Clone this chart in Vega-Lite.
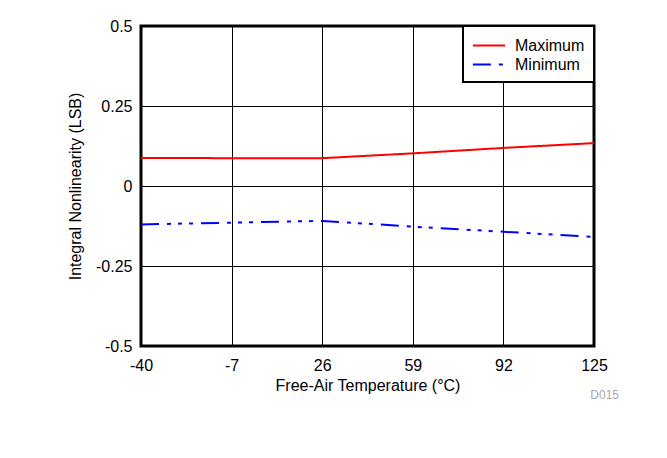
{
  "$schema": "https://vega.github.io/schema/vega-lite/v6.json",
  "width": 453,
  "height": 320,
  "autosize": {"type": "none"},
  "padding": {"left": 141, "top": 26, "right": 73, "bottom": 112},
  "background": "white",
  "title": {
    "text": "D015",
    "orient": "bottom",
    "anchor": "end",
    "frame": "group",
    "font": "Liberation Sans",
    "fontSize": 12,
    "fontWeight": "normal",
    "color": "#a8a8a8",
    "offset": -3,
    "dx": 25
  },
  "config": {
    "font": "Liberation Sans",
    "view": {"stroke": "black", "strokeWidth": 3},
    "axis": {
      "labelFont": "Liberation Sans",
      "titleFont": "Liberation Sans",
      "labelFontSize": 16,
      "titleFontSize": 16,
      "titleFontWeight": "normal",
      "labelColor": "black",
      "titleColor": "black",
      "grid": true,
      "gridColor": "black",
      "gridWidth": 1,
      "gridOpacity": 1,
      "domain": false,
      "ticks": false,
      "tickSize": 0,
      "labelFlush": false,
      "labelOverlap": false
    },
    "legend": {
      "orient": "top-right",
      "offset": 0,
      "padding": 9,
      "fillColor": "white",
      "strokeColor": "black",
      "symbolType": "M-1.7,0H1.7",
      "symbolSize": 361,
      "symbolStrokeWidth": 2,
      "symbolOffset": 6.5,
      "labelFont": "Liberation Sans",
      "labelFontSize": 16,
      "labelColor": "black",
      "labelOffset": 15.5,
      "rowPadding": 0
    }
  },
  "data": {
    "values": [
      {"temp": -40, "inl": 0.0875, "series": "Maximum"},
      {"temp": -7, "inl": 0.087, "series": "Maximum"},
      {"temp": 26, "inl": 0.087, "series": "Maximum"},
      {"temp": 59, "inl": 0.102, "series": "Maximum"},
      {"temp": 92, "inl": 0.119, "series": "Maximum"},
      {"temp": 125, "inl": 0.134, "series": "Maximum"},
      {"temp": -40, "inl": -0.12, "series": "Minimum"},
      {"temp": -7, "inl": -0.1145, "series": "Minimum"},
      {"temp": 26, "inl": -0.109, "series": "Minimum"},
      {"temp": 59, "inl": -0.127, "series": "Minimum"},
      {"temp": 92, "inl": -0.143, "series": "Minimum"},
      {"temp": 125, "inl": -0.159, "series": "Minimum"}
    ]
  },
  "mark": {"type": "line", "strokeWidth": 2},
  "encoding": {
    "x": {
      "field": "temp",
      "type": "quantitative",
      "scale": {"domain": [-40, 125], "nice": false, "zero": false},
      "axis": {
        "values": [-40, -7, 26, 59, 92, 125],
        "labelExpr": "'' + datum.value",
        "labelPadding": 11,
        "title": "Free-Air Temperature (°C)",
        "titlePadding": 4
      }
    },
    "y": {
      "field": "inl",
      "type": "quantitative",
      "scale": {"domain": [-0.5, 0.5], "nice": false, "zero": false},
      "axis": {
        "values": [-0.5, -0.25, 0, 0.25, 0.5],
        "labelExpr": "'' + datum.value",
        "labelPadding": 9,
        "title": "Integral Nonlinearity (LSB)",
        "titlePadding": 12
      }
    },
    "color": {
      "field": "series",
      "type": "nominal",
      "scale": {"domain": ["Maximum", "Minimum"], "range": ["#ff0000", "#0000ff"]},
      "legend": {
        "title": null,
        "encode": {"legend": {"update": {"strokeWidth": {"value": 2}}}}
      }
    },
    "strokeDash": {
      "field": "series",
      "type": "nominal",
      "scale": {"domain": ["Maximum", "Minimum"], "range": [[1, 0], [18, 8, 4, 7, 4, 7, 4, 8]]},
      "legend": {
        "title": null,
        "encode": {"legend": {"update": {"strokeWidth": {"value": 2}}}}
      }
    }
  }
}
